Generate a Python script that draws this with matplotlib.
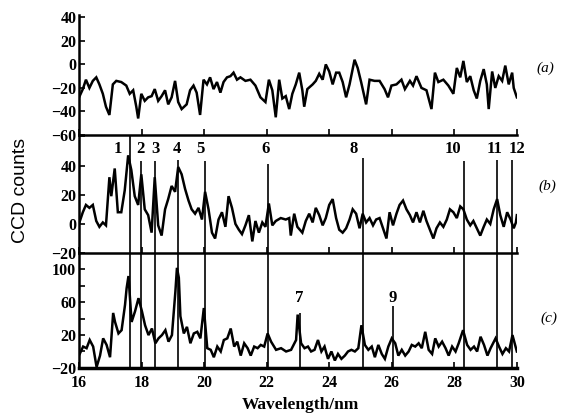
import matplotlib
matplotlib.use('Agg')
import matplotlib.pyplot as plt

plt.rcParams['font.family'] = ['Liberation Serif', 'DejaVu Serif']
plt.rcParams['font.weight'] = 'bold'

# spectrum (a)
wl_a = [16.0, 16.12, 16.22, 16.33, 16.44, 16.55, 16.65, 16.76, 16.86, 16.97,
        17.08, 17.19, 17.35, 17.51, 17.62, 17.73, 17.83, 17.89, 17.99, 18.10,
        18.21, 18.32, 18.42, 18.53, 18.64, 18.75, 18.85, 18.96, 19.07, 19.17,
        19.28, 19.44, 19.55, 19.66, 19.76, 19.87, 19.98, 20.09, 20.19, 20.30,
        20.41, 20.52, 20.62, 20.73, 20.84, 20.94, 21.05, 21.16, 21.32, 21.48,
        21.64, 21.80, 21.96, 22.07, 22.18, 22.29, 22.40, 22.50, 22.61, 22.72,
        22.82, 22.93, 23.04, 23.14, 23.20, 23.30, 23.47, 23.57, 23.68, 23.79,
        23.89, 24.00, 24.11, 24.22, 24.32, 24.43, 24.54, 24.65, 24.81, 24.91,
        25.02, 25.18, 25.29, 25.45, 25.61, 25.77, 25.88, 25.99, 26.15, 26.31,
        26.42, 26.58, 26.68, 26.79, 26.95, 27.11, 27.27, 27.38, 27.49, 27.65,
        27.81, 27.97, 28.08, 28.19, 28.29, 28.40, 28.51, 28.62, 28.72, 28.83,
        28.94, 29.04, 29.10, 29.21, 29.31, 29.42, 29.53, 29.63, 29.74, 29.85,
        29.90, 30.0]
counts_a = [-28, -21, -13, -20, -14, -11, -17, -25, -36, -43,
            -17, -14, -15, -18, -25, -22, -36, -46, -25, -31,
            -28, -27, -21, -31, -27, -22, -34, -28, -14, -32,
            -38, -34, -22, -18, -24, -43, -13, -17, -11, -21,
            -15, -24, -15, -11, -10, -7, -13, -11, -14, -13,
            -18, -28, -32, -13, -22, -45, -13, -29, -27, -38,
            -25, -17, -7, -22, -36, -21, -17, -14, -8, -13,
            0, -6, -17, -7, -7, -15, -28, -17, 4, -3,
            -15, -34, -13, -14, -14, -21, -28, -18, -17, -13,
            -21, -14, -18, -10, -20, -22, -38, -7, -15, -13,
            -18, -25, -3, -11, 3, -15, -10, -22, -29, -14,
            -4, -17, -38, -6, -20, -10, -14, -1, -17, -7,
            -20, -28]

# spectrum (b)
wl_b = [16.01, 16.12, 16.22, 16.33, 16.44, 16.55, 16.65, 16.76, 16.86, 16.97,
        17.03, 17.14, 17.24, 17.35, 17.46, 17.57, 17.67, 17.78, 17.89, 17.99,
        18.10, 18.21, 18.32, 18.42, 18.53, 18.64, 18.75, 18.85, 18.96, 19.07,
        19.17, 19.28, 19.39, 19.50, 19.60, 19.71, 19.82, 19.93, 20.03, 20.14,
        20.25, 20.35, 20.46, 20.57, 20.68, 20.78, 20.89, 21.00, 21.11, 21.21,
        21.32, 21.43, 21.54, 21.64, 21.75, 21.86, 21.96, 22.07, 22.18, 22.29,
        22.45, 22.61, 22.72, 22.77, 22.88, 22.98, 23.14, 23.25, 23.36, 23.47,
        23.57, 23.68, 23.79, 23.89, 24.00, 24.11, 24.22, 24.32, 24.43, 24.54,
        24.65, 24.75, 24.86, 24.97, 25.07, 25.18, 25.29, 25.40, 25.50, 25.61,
        25.72, 25.83, 25.93, 26.04, 26.15, 26.25, 26.36, 26.47, 26.58, 26.68,
        26.79, 26.90, 27.01, 27.11, 27.22, 27.33, 27.43, 27.54, 27.65, 27.76,
        27.86, 27.97, 28.08, 28.19, 28.29, 28.40, 28.51, 28.61, 28.72, 28.83,
        28.94, 29.04, 29.15, 29.26, 29.37, 29.47, 29.58, 29.69, 29.80, 29.90,
        29.97, 30.0]
counts_b = [1, 8, 13, 11, 13, 2, -2, 1, -1, 32,
            19, 38, 8, 8, 23, 47, 37, 19, 13, 34,
            10, 6, -6, 32, -1, -8, 10, 17, 26, 22,
            39, 34, 24, 16, 10, 7, 11, 3, 22, 10,
            -6, -10, 3, 8, -2, 19, 11, 0, -4, -7,
            -1, 6, -12, 2, -6, 1, -2, 14, -1, 2,
            4, 3, 4, -8, 7, -2, -6, 2, 7, 1,
            11, 6, -1, 4, 13, 17, 4, -4, -6, -3,
            3, 10, 7, -3, 7, 1, 4, -1, 3, 4,
            -3, -10, 8, -1, 7, 13, 16, 10, 6, 1,
            8, 1, 9, 2, -4, -10, -3, 1, -2, 3,
            10, 8, 4, 12, 10, 3, -1, 2, -3, -8,
            -2, 3, 0, 10, 17, 6, -2, 8, 3, -3,
            1, 6]

# spectrum (c)
wl_c = [16.02, 16.13, 16.24, 16.34, 16.45, 16.56, 16.67, 16.77, 16.88, 16.99,
        17.09, 17.15, 17.26, 17.36, 17.47, 17.52, 17.58, 17.68, 17.79, 17.90,
        18.01, 18.11, 18.22, 18.33, 18.44, 18.54, 18.65, 18.76, 18.86, 18.97,
        19.08, 19.13, 19.19, 19.24, 19.35, 19.45, 19.56, 19.67, 19.78, 19.88,
        19.99, 20.10, 20.21, 20.31, 20.42, 20.53, 20.63, 20.74, 20.85, 20.96,
        21.06, 21.17, 21.28, 21.39, 21.49, 21.60, 21.71, 21.81, 21.92, 22.03,
        22.14, 22.30, 22.46, 22.62, 22.78, 22.94, 22.99, 23.10, 23.21, 23.32,
        23.42, 23.53, 23.64, 23.75, 23.85, 23.96, 24.07, 24.18, 24.28, 24.39,
        24.50, 24.60, 24.71, 24.82, 24.93, 25.03, 25.14, 25.25, 25.36, 25.46,
        25.57, 25.68, 25.78, 25.89, 26.00, 26.11, 26.21, 26.32, 26.43, 26.54,
        26.64, 26.75, 26.86, 26.96, 27.07, 27.18, 27.29, 27.39, 27.50, 27.61,
        27.72, 27.82, 27.93, 28.04, 28.14, 28.28, 28.41, 28.52, 28.63, 28.73,
        28.84, 28.95, 29.06, 29.16, 29.32, 29.43, 29.54, 29.65, 29.75, 29.86,
        29.97, 30.0]
counts_c = [-3, 6, 4, 14, 6, -19, -5, 16, 8, -7,
            47, 36, 22, 26, 57, 77, 92, 36, 49, 65,
            49, 32, 20, 28, 10, 16, 20, 26, 12, 20,
            73, 102, 90, 43, 22, 30, 10, 22, 24, 16,
            53, 4, 2, -7, 6, 0, 14, 16, 28, 6,
            12, -5, 10, 4, -5, 6, 4, 8, 6, 22,
            12, 2, 4, 0, 2, 14, 45, 10, 4, 6,
            0, 2, 14, 0, 6, -9, 0, -11, -3, -9,
            -5, 0, 2, 0, 4, 32, 8, 2, 6, -7,
            8, -3, -9, 6, 16, 10, -5, 2, -5, 0,
            8, 6, 10, 4, 24, 2, -3, 16, 6, 12,
            4, -5, 6, 0, 10, 26, 8, 2, 6, 0,
            18, 8, -5, 4, 16, 6, -3, 4, 0, 20,
            4, 0]

# identified lines
line_wl = [17.62, 17.97, 18.43, 19.16, 20.02, 22.05, 23.05, 25.08, 26.03, 28.31, 29.38, 29.83]
line_names = ['1', '2', '3', '4', '5', '6', '7', '8', '9', '10', '11', '12']
line_top_b = [60, 43, 43, 44, 43, 41, None, 45, None, 43, 44, 44]
line_top_c = [120, 120, 120, 120, 120, 120, 47, 120, 55, 120, 120, 120]

# label placement (offset in nm, height in counts)
label_dx = [-0.38, -0.02, 0.0, -0.02, -0.15, -0.1, 0.0, -0.3, 0.0, -0.35, -0.08, 0.16]
label_b_y = 46
label_c_y = 56

fig = plt.figure(figsize=(5.73, 4.19), dpi=100)
ax_a = fig.add_axes([0.138, 0.678, 0.764, 0.286])
ax_b = fig.add_axes([0.138, 0.396, 0.764, 0.282])
ax_c = fig.add_axes([0.138, 0.122, 0.764, 0.274])

trace_kw = dict(color='black', lw=1.8, solid_joinstyle='miter')

ax_a.plot(wl_a, counts_a, **trace_kw)
ax_b.plot(wl_b, counts_b, **trace_kw)
ax_c.plot(wl_c, counts_c, **trace_kw)

for i in range(len(line_wl)):
    if line_top_b[i] is not None:
        ax_b.vlines(line_wl[i], -20, line_top_b[i], color='black', lw=1.2)
        ax_b.text(line_wl[i] + label_dx[i], label_b_y, line_names[i],
                  ha='center', va='bottom', fontsize=12)
    ax_c.vlines(line_wl[i], -20, line_top_c[i], color='black', lw=1.2)
    if line_top_b[i] is None:
        ax_c.text(line_wl[i] + label_dx[i], label_c_y, line_names[i],
                  ha='center', va='bottom', fontsize=12)

def fmt(v):
    return ('\u2212' + str(-v)) if v < 0 else str(v)

ax_a.set_ylim(-60, 42)
ax_a.set_yticks(range(-60, 41, 20))
ax_a.set_yticklabels([fmt(v) for v in range(-60, 41, 20)])

ax_b.set_ylim(-20, 61)
ax_b.set_yticks(range(-20, 61, 20))
ax_b.set_yticklabels([fmt(v) for v in range(-20, 41, 20)] + [''])

ax_c.set_ylim(-20, 120)
ax_c.set_yticks(range(-20, 101, 20))
ax_c.set_yticklabels([fmt(v) if (v + 20) % 40 == 0 else '' for v in range(-20, 101, 20)])

for ax in (ax_a, ax_b, ax_c):
    ax.set_xlim(16, 30)
    ax.set_xticks(range(16, 31, 2))
    ax.spines['top'].set_visible(False)
    ax.spines['right'].set_visible(False)
    ax.spines['left'].set_linewidth(1.8)
    ax.spines['bottom'].set_linewidth(1.8)
    ax.tick_params(direction='in', length=4, width=1.2, labelsize=11.5, pad=2)
    ax.patch.set_alpha(0)

ax_a.tick_params(axis='x', labelbottom=False)
ax_b.tick_params(axis='x', labelbottom=False)
ax_c.tick_params(axis='x', pad=5)
ax_c.spines['bottom'].set_linewidth(2.5)

fig.text(0.036, 0.545, 'CCD counts', rotation=90, ha='center', va='center',
         family='Liberation Sans', weight='normal', fontsize=14)
fig.text(0.524, 0.033, 'Wavelength/nm', ha='center', va='center', fontsize=12.5)

fig.text(0.952, 0.838, '(a)', ha='center', va='center', style='italic', weight='normal', fontsize=11)
fig.text(0.956, 0.555, '(b)', ha='center', va='center', style='italic', weight='normal', fontsize=11)
fig.text(0.958, 0.241, '(c)', ha='center', va='center', style='italic', weight='normal', fontsize=11)

fig.savefig('out.png', dpi=100)
